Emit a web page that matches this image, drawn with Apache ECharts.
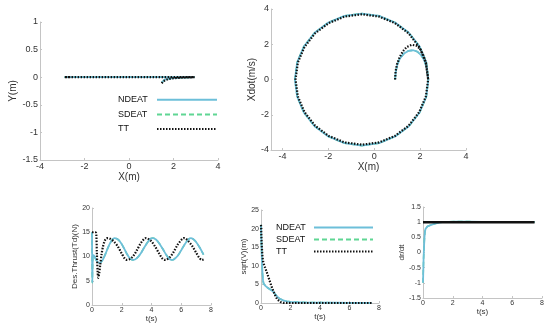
<!DOCTYPE html>
<html><head><meta charset="utf-8">
<script src="https://cdn.jsdelivr.net/npm/echarts@6/dist/echarts.min.js"></script>
<style>html,body{margin:0;padding:0;background:#fff}#c{width:550px;height:325px}</style>
</head><body><div id="c"></div>
<script>
// ---- Data ----
const seriesNames = ['NDEAT', 'SDEAT', 'TT'];

// Panel 1: Y(m) vs X(m)
const p1_TT = [[1.47,-0.11],[1.5,-0.09],[1.55,-0.07],[1.62,-0.05],[1.75,-0.035],[1.9,-0.025],[2.1,-0.015],[2.4,-0.008],[2.7,-0.003],[2.95,0],[2.5,0],[2,0],[1.5,0],[1,0],[0.5,0],[0,0],[-0.5,0],[-1,0],[-1.5,0],[-2,0],[-2.5,0],[-2.9,0],[-2.6,0]];
const p1_NDEAT = [[1.47,-0.1],[1.6,-0.045],[1.9,-0.02],[2.5,-0.005],[2.95,0],[-2.9,0]];
const p1_SDEAT = p1_NDEAT;

// Panel 2: Xdot(m/s) vs X(m)
const p2_TT = [[0.91,0],[0.93,0.45],[0.99,0.85],[1.1,1.25],[1.25,1.6],[1.42,1.85],[1.64,1.97],[1.86,1.91],[2.02,1.7],[2.13,1.4],[2.25,0.96],[2.35,0],[2.25,-0.96],[1.96,-1.85],[1.5,-2.62],[0.905,-3.2],[0.21,-3.57],[-0.54,-3.7],[-1.29,-3.57],[-1.985,-3.2],[-2.58,-2.62],[-3.04,-1.85],[-3.33,-0.96],[-3.43,0],[-3.33,0.96],[-3.04,1.85],[-2.58,2.62],[-1.985,3.2],[-1.29,3.57],[-0.54,3.7],[0.21,3.57],[0.905,3.2],[1.5,2.62],[1.96,1.85],[2.25,0.96],[2.35,0]];
const p2_NDEAT = [[0.91,0],[0.94,0.45],[1.01,0.85],[1.12,1.2],[1.3,1.48],[1.5,1.63],[1.7,1.66],[1.88,1.58],[2.03,1.4],[2.16,1.15],[2.28,0.7],[2.36,0],[2.27,-0.97],[1.98,-1.87],[1.51,-2.65],[0.91,-3.23],[0.21,-3.61],[-0.54,-3.75],[-1.3,-3.61],[-2.0,-3.23],[-2.6,-2.65],[-3.07,-1.87],[-3.36,-0.97],[-3.46,0],[-3.36,0.97],[-3.07,1.87],[-2.6,2.65],[-2.0,3.23],[-1.3,3.61],[-0.54,3.74],[0.21,3.61],[0.91,3.23],[1.51,2.65],[1.98,1.87],[2.27,0.97],[2.36,0]];
const p2_SDEAT = p2_NDEAT;

// Panel 3: Des.Thrust(Td)(N) vs t(s)
const p3_TT = [[0,15],[0.1,15],[0.2,15],[0.28,14.8],[0.33,10.5],[0.38,6.8],[0.42,5.6],[0.48,6.4],[0.55,8.2],[0.65,10.6],[0.75,12.2],[0.85,13.2],[0.95,13.7],[1.07,13.8],[1.25,13.6],[1.5,13.0],[1.75,12.0],[2.0,10.6],[2.2,9.6],[2.35,9.3],[2.5,9.4],[2.75,10.0],[3.0,11.2],[3.25,12.6],[3.5,13.6],[3.62,13.8],[3.75,13.7],[4.0,13.1],[4.25,12.0],[4.5,10.7],[4.7,9.7],[4.88,9.3],[5.0,9.35],[5.25,9.9],[5.5,11.0],[5.75,12.4],[6.0,13.4],[6.15,13.8],[6.3,13.7],[6.5,13.1],[6.75,12.1],[7.0,10.8],[7.2,9.8],[7.38,9.3],[7.5,9.4]];
const p3_NDEAT = [[0,15],[0.01,9],[0.02,4.6],[0.04,8],[0.06,10.2],[0.1,10.3],[0.2,9.8],[0.3,9.2],[0.45,8.7],[0.55,8.7],[0.7,9.2],[0.9,10.5],[1.1,12.0],[1.3,13.2],[1.5,13.8],[1.7,13.6],[1.9,13.0],[2.1,12.0],[2.3,10.8],[2.5,9.8],[2.7,9.3],[2.8,9.3],[3.0,9.6],[3.25,10.5],[3.5,11.8],[3.75,13.0],[3.95,13.7],[4.1,13.8],[4.3,13.5],[4.5,12.8],[4.75,11.6],[5.0,10.3],[5.2,9.5],[5.35,9.3],[5.5,9.4],[5.75,10.1],[6.0,11.3],[6.25,12.6],[6.5,13.6],[6.65,13.8],[6.8,13.6],[7.0,13.0],[7.25,11.8],[7.5,10.4]];
const p3_SDEAT = p3_NDEAT;

// Panel 4: sqrt(V)(m) vs t(s)
const p4_TT = [[0,21],[0.05,15.5],[0.1,12.5],[0.15,11],[0.23,10],[0.3,9.3],[0.4,8.2],[0.5,7.0],[0.6,5.8],[0.7,4.6],[0.8,3.6],[0.9,2.6],[1.0,1.7],[1.1,1.0],[1.2,0.5],[1.35,0.2],[1.5,0.05],[2,0],[3,0],[4,0],[5,0],[6,0],[7.5,0]];
const p4_NDEAT = [[0,21],[0.03,16],[0.06,11.5],[0.1,8],[0.14,6],[0.18,5.2],[0.3,4.6],[0.45,4.1],[0.6,3.7],[0.75,3.3],[0.9,2.7],[1.0,2.2],[1.1,1.7],[1.25,1.2],[1.5,0.7],[1.75,0.45],[2.0,0.3],[2.5,0.2],[3,0.15],[4,0.1],[5,0.08],[6,0.05],[7.5,0.04]];
const p4_SDEAT = p4_NDEAT;

// Panel 5: dr/dt vs t(s)
const p5_TT = [[0,1],[1,1],[2,1],[3,1],[4,1],[5,1],[6,1],[7,1],[7.5,1]];
const p5_NDEAT = [[0,-1],[0.02,-0.6],[0.04,-0.2],[0.07,0.2],[0.1,0.5],[0.13,0.68],[0.17,0.78],[0.22,0.83],[0.3,0.86],[0.45,0.89],[0.6,0.92],[0.8,0.95],[1.0,0.98],[1.3,1.0],[1.7,1.01],[2.2,1.02],[3,1.02],[4,1.01],[5,1.01],[6,1.0],[7.5,1.0]];
const p5_SDEAT = p5_NDEAT;

// Tick label values
const ticksP2x = [-4, -2, 0, 2, 4];

// ---- Styling ----
const FONT = 'Liberation Sans';
const AX = '#c4c4c4';
const C_N = '#6dbfd9';
const C_S = '#5fd693';
const C_T = '#111111';

function axis(grid, min, max, interval, name, nameGap, fs, custom) {
  const a = {
    type: 'value', gridIndex: grid, min: min, max: max, interval: interval,
    name: name, nameLocation: 'middle', nameGap: nameGap,
    nameTextStyle: {color: '#333', fontSize: fs + 1, fontFamily: FONT},
    axisLine: {show: true, onZero: false, lineStyle: {color: AX}},
    axisTick: {show: true, inside: true, length: 2, lineStyle: {color: AX}},
    axisLabel: {color: '#333', fontSize: fs, margin: 2, fontFamily: FONT},
    splitLine: {show: false}
  };
  if (custom) {
    a.axisLabel.customValues = custom;
    a.axisTick.customValues = custom;
    delete a.interval;
  }
  return a;
}

const grids = [
  {left: 40, top: 22, width: 178, height: 138},
  {left: 271, top: 9, width: 195, height: 141},
  {left: 92, top: 208, width: 119, height: 97},
  {left: 261, top: 210, width: 118, height: 93},
  {left: 423, top: 207, width: 119, height: 91}
];

const xAxes = [
  axis(0, -4, 4, 2, 'X(m)', 9, 9),
  axis(1, -4.5, 4, 2, 'X(m)', 11, 9, ticksP2x),
  axis(2, 0, 8, 2, 't(s)', 8, 7),
  axis(3, 0, 8, 2, 't(s)', 7, 7),
  axis(4, 0, 8, 2, 't(s)', 8, 7)
];

// Panel 5 y axis: labels on one axis, title on a second (label-less) axis in the same grid
const p5YLabels = axis(4, -1.5, 1.5, 0.5, '', 0, 7);
delete p5YLabels.name;
const p5YTitle = {
  type: 'value', gridIndex: 4, min: -1.5, max: 1.5, interval: 0.5, position: 'left',
  name: 'dr/dt', nameLocation: 'middle', nameGap: 17,
  nameTextStyle: {color: '#333', fontSize: 8, fontFamily: FONT},
  axisLine: {show: false}, axisTick: {show: false}, axisLabel: {show: false}, splitLine: {show: false}
};

const yAxes = [
  axis(0, -1.5, 1, 0.5, 'Y(m)', 22, 9),
  axis(1, -4, 4, 2, 'Xdot(m/s)', 9, 9),
  axis(2, 0, 20, 5, 'Des.Thrust(Td)(N)', 9, 7),
  axis(3, 0, 25, 5, 'sqrt(V)(m)', 10, 7),
  p5YLabels,
  p5YTitle
];

function mk(name, gi, data, smooth) {
  const base = {type: 'line', name: name, xAxisIndex: gi, yAxisIndex: gi, data: data, symbol: 'none', showSymbol: false, smooth: smooth || false, animation: false};
  if (name === 'NDEAT') {
    base.lineStyle = {color: C_N, width: 1.8};
    base.itemStyle = {color: C_N};
  } else if (name === 'SDEAT') {
    base.lineStyle = {color: C_S, width: 1.6, type: [5, 3]};
    base.itemStyle = {color: C_S};
  } else {
    base.lineStyle = {color: C_T, width: 2.2, type: [1.5, 1.5]};
    base.itemStyle = {color: C_T};
  }
  return base;
}

const panels = [
  [p1_SDEAT, p1_NDEAT, p1_TT, 0],
  [p2_SDEAT, p2_NDEAT, p2_TT, 0],
  [p3_SDEAT, p3_NDEAT, p3_TT, 0.3],
  [p4_SDEAT, p4_NDEAT, p4_TT, 0],
  [p5_SDEAT, p5_NDEAT, p5_TT, 0]
];
const series = [];
panels.forEach(function (p, gi) {
  series.push(mk('SDEAT', gi, p[0], p[3]));
  series.push(mk('NDEAT', gi, p[1], p[3]));
  series.push(mk('TT', gi, p[2], p[3]));
});
// panel 5 TT drawn as a heavy solid line
series[14].lineStyle = {color: C_T, width: 2.5};

function legend(left, top, itemWidth, rowH, gap, textW) {
  return {
    left: left, top: top, orient: 'vertical', align: 'right', padding: 0,
    itemWidth: itemWidth, itemHeight: rowH, itemGap: gap,
    itemStyle: {opacity: 0},
    data: seriesNames,
    formatter: '{a|{name}}',
    textStyle: {rich: {a: {width: textW, align: 'left', fontSize: 9, lineHeight: rowH, color: '#111', fontFamily: FONT}}}
  };
}

const chart = echarts.init(document.getElementById('c'), null, {renderer: 'canvas'});
chart.setOption({
  backgroundColor: '#ffffff',
  animation: false,
  grid: grids,
  xAxis: xAxes,
  yAxis: yAxes,
  legend: [legend(118, 95, 60, 12, 5, 34), legend(276, 223, 59, 11, 3, 33)],
  series: series
});
</script></body></html>
